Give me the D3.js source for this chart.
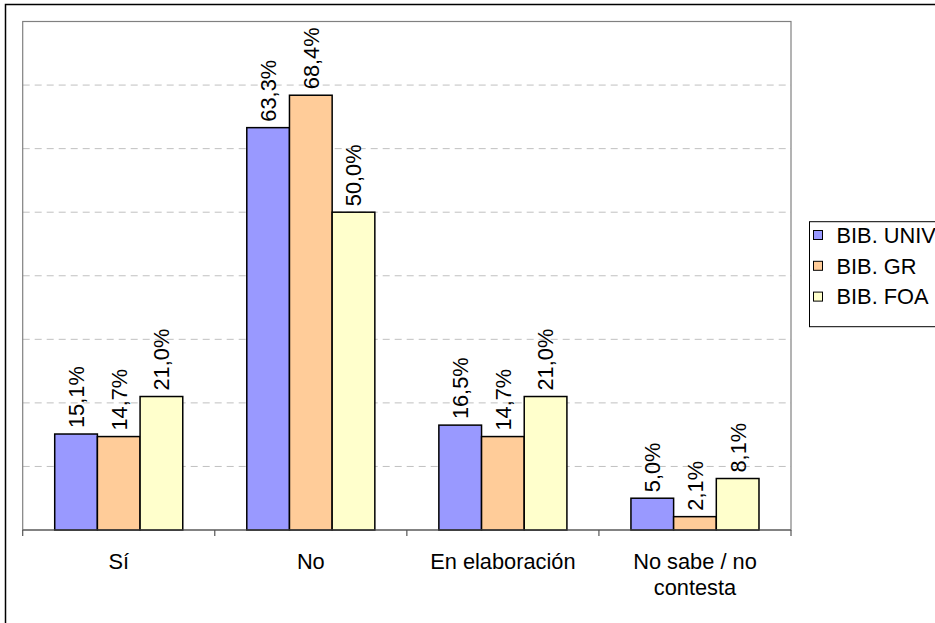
<!DOCTYPE html>
<html><head><meta charset="utf-8">
<script src="https://cdn.jsdelivr.net/npm/d3@7"></script>
<style>body{margin:0;background:#fff}svg{display:block}text{font-family:"Liberation Sans",Arial,sans-serif;fill:#000}</style>
</head><body>
<script>
const categories = [["Sí"], ["No"], ["En elaboración"], ["No sabe / no", "contesta"]];
const seriesNames = ["BIB. UNIV", "BIB. GR", "BIB. FOA"];
const seriesColors = ["#9999FF", "#FFCC99", "#FFFFCC"];
const univ = [15.1, 63.3, 16.5, 5.0];
const gr = [14.7, 68.4, 14.7, 2.1];
const foa = [21.0, 50.0, 21.0, 8.1];
const yTicks = [0, 10, 20, 30, 40, 50, 60, 70, 80];

const W = 935, H = 623;
const svg = d3.select("body").append("svg").attr("width", W).attr("height", H);
const fs = 21.8;

// outer chart border
svg.append("rect").attr("x", 5.5).attr("y", 4.5).attr("width", 960).attr("height", 625)
  .attr("fill", "none").attr("stroke", "#000").attr("stroke-width", 1.5);

const L = 22.7, R = 791, T = 21.5, B = 530;
const x0 = d3.scaleBand().domain(d3.range(categories.length)).range([L, R]).paddingInner(0).paddingOuter(0);
const bw = x0.bandwidth() / 4.5;
const y = d3.scaleLinear().domain([0, 80]).range([B, T]);

// gridlines
svg.append("g").selectAll("line").data(yTicks.filter(t => t > 0 && t < 80)).join("line")
  .attr("x1", L).attr("x2", R).attr("y1", d => y(d)).attr("y2", d => y(d))
  .attr("stroke", "#c0c0c0").attr("stroke-width", 1).attr("stroke-dasharray", "7,5");

// plot border
svg.append("rect").attr("x", L).attr("y", T).attr("width", R - L).attr("height", B - T)
  .attr("fill", "none").attr("stroke", "#808080").attr("stroke-width", 1.2);

const data = [univ, gr, foa];
data.forEach((vals, si) => {
  const g = svg.append("g");
  g.selectAll("rect").data(vals).join("rect")
    .attr("x", (d, i) => x0(i) + bw * 0.75 + si * bw)
    .attr("y", d => y(d))
    .attr("width", bw)
    .attr("height", d => B - y(d))
    .attr("fill", seriesColors[si]).attr("stroke", "#000").attr("stroke-width", 1.5);
  g.selectAll("text").data(vals).join("text")
    .attr("transform", (d, i) => `translate(${x0(i) + bw * 0.75 + si * bw + bw / 2},${y(d) - 6}) rotate(-90)`)
    .attr("dy", "0.36em").attr("font-size", fs)
    .text(d => d.toFixed(1).replace(".", ",") + "%");
});

// x axis
const ax = svg.append("g");
ax.append("line").attr("x1", L).attr("x2", R).attr("y1", B).attr("y2", B).attr("stroke", "#555").attr("stroke-width", 1.2);
ax.selectAll("line.t").data(d3.range(categories.length + 1)).join("line").attr("class", "t")
  .attr("x1", i => L + i * x0.bandwidth()).attr("x2", i => L + i * x0.bandwidth())
  .attr("y1", B).attr("y2", B + 6).attr("stroke", "#555").attr("stroke-width", 1.2);
categories.forEach((lines, i) => {
  const t = ax.append("text").attr("text-anchor", "middle").attr("font-size", fs)
    .attr("x", x0(i) + x0.bandwidth() / 2).attr("y", 568.5);
  lines.forEach((ln, k) => t.append("tspan").attr("x", x0(i) + x0.bandwidth() / 2).attr("dy", k ? 26.7 : 0).text(ln));
});

// legend
const lg = svg.append("g");
lg.append("rect").attr("x", 809.5).attr("y", 221.7).attr("width", 140).attr("height", 105)
  .attr("fill", "#fff").attr("stroke", "#000").attr("stroke-width", 1);
seriesNames.forEach((n, i) => {
  const cy = 235 + i * 30.8;
  lg.append("rect").attr("x", 813.5).attr("y", cy - 4.5).attr("width", 9).attr("height", 9)
    .attr("fill", seriesColors[i]).attr("stroke", "#000").attr("stroke-width", 1);
  lg.append("text").attr("x", 836.5).attr("y", cy).attr("dy", "0.36em").attr("font-size", fs).text(n);
});
</script>
</body></html>
